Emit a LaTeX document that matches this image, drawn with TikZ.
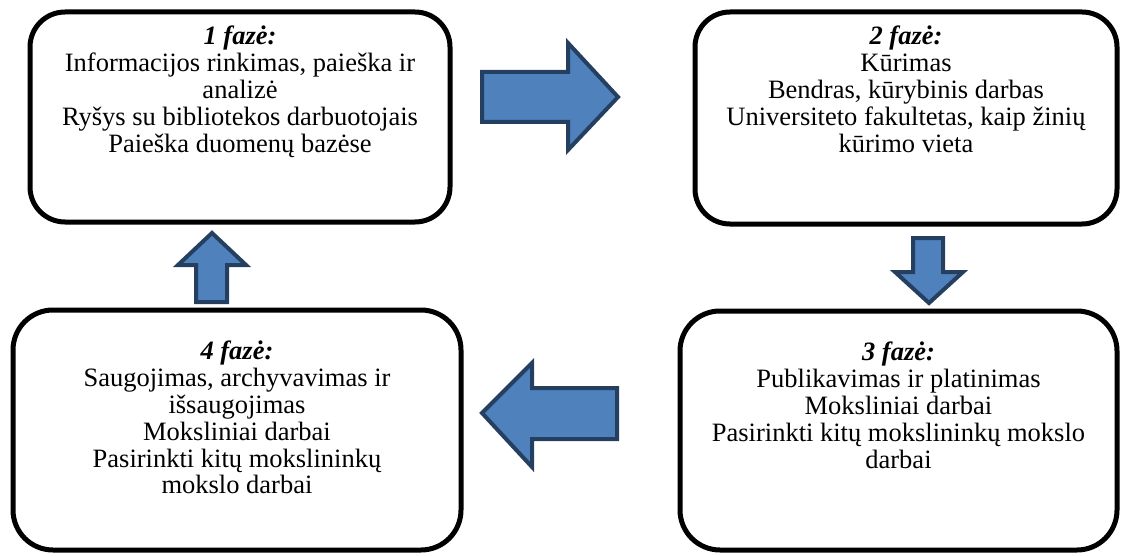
\documentclass[tikz,border=0pt]{standalone}
\usepackage{fontspec}
\setmainfont{Liberation Serif}
\definecolor{arrowfill}{HTML}{4F81BD}
\definecolor{arrowline}{HTML}{243F60}
\tikzset{
  phase/.style={draw=black, line width=5pt, rounded corners=35pt, inner sep=0pt, outer sep=0pt},
  phasetext/.style={anchor=north, align=center, inner sep=0pt,
    font=\fontsize{26.5}{26.8}\selectfont},
  blockarrow/.style={fill=arrowfill, draw=arrowline, line width=4pt, line join=miter},
}
\newcommand{\phasetitle}[1]{\textbf{\textit{#1}}}
\begin{document}
\begin{tikzpicture}[x=1pt, y=-1pt]
\useasboundingbox (0,0) rectangle (1121,556);

% phase boxes
\node[phase, minimum width=420pt, minimum height=210pt] (b1) at (240,117) {};
\node[phase, minimum width=422pt, minimum height=212pt] (b2) at (906,118) {};
\node[phase, rounded corners=40pt, minimum width=437pt, minimum height=239pt] (b3) at (898.5,430.5) {};
\node[phase, rounded corners=40pt, minimum width=448pt, minimum height=240pt] (b4) at (237,430) {};

% box contents
\node[phasetext] (t1) at ([yshift=-14pt]b1.north) {\phasetitle{1 fazė:}\\
  Informacijos rinkimas, paieška ir\\ analizė\\
  Ryšys su bibliotekos darbuotojais\\ Paieška duomenų bazėse};
\node[phasetext] (t2) at ([yshift=-14pt]b2.north) {\phasetitle{2 fazė:}\\
  Kūrimas\\ Bendras, kūrybinis darbas\\
  Universiteto fakultetas, kaip žinių\\ kūrimo vieta};
\node[phasetext] (t3) at ([yshift=-31pt]b3.north) {\phasetitle{3 fazė:}\\
  Publikavimas ir platinimas\\ Moksliniai darbai\\
  Pasirinkti kitų mokslininkų mokslo\\ darbai};
\node[phasetext] (t4) at ([yshift=-31pt]b4.north) {\phasetitle{4 fazė:}\\
  Saugojimas, archyvavimas ir\\ išsaugojimas\\ Moksliniai darbai\\
  Pasirinkti kitų mokslininkų\\ mokslo darbai};

% block arrows between phases
% 1 -> 2
\draw[blockarrow] (482,72) -- (568,72) -- (568,43) -- (618,97)
  -- (568,150) -- (568,122) -- (482,122) -- cycle;
% 2 -> 3
\draw[blockarrow] (913,238) -- (943,238) -- (943,272) -- (963,272)
  -- (929,303) -- (895,272) -- (913,272) -- cycle;
% 3 -> 4
\draw[blockarrow] (617,388) -- (532,388) -- (532,363) -- (482,413)
  -- (532,467) -- (532,439) -- (617,439) -- cycle;
% 4 -> 1
\draw[blockarrow] (196,302) -- (196,265) -- (178,265) -- (212,233)
  -- (246,265) -- (227,265) -- (227,302) -- cycle;
\end{tikzpicture}
\end{document}
